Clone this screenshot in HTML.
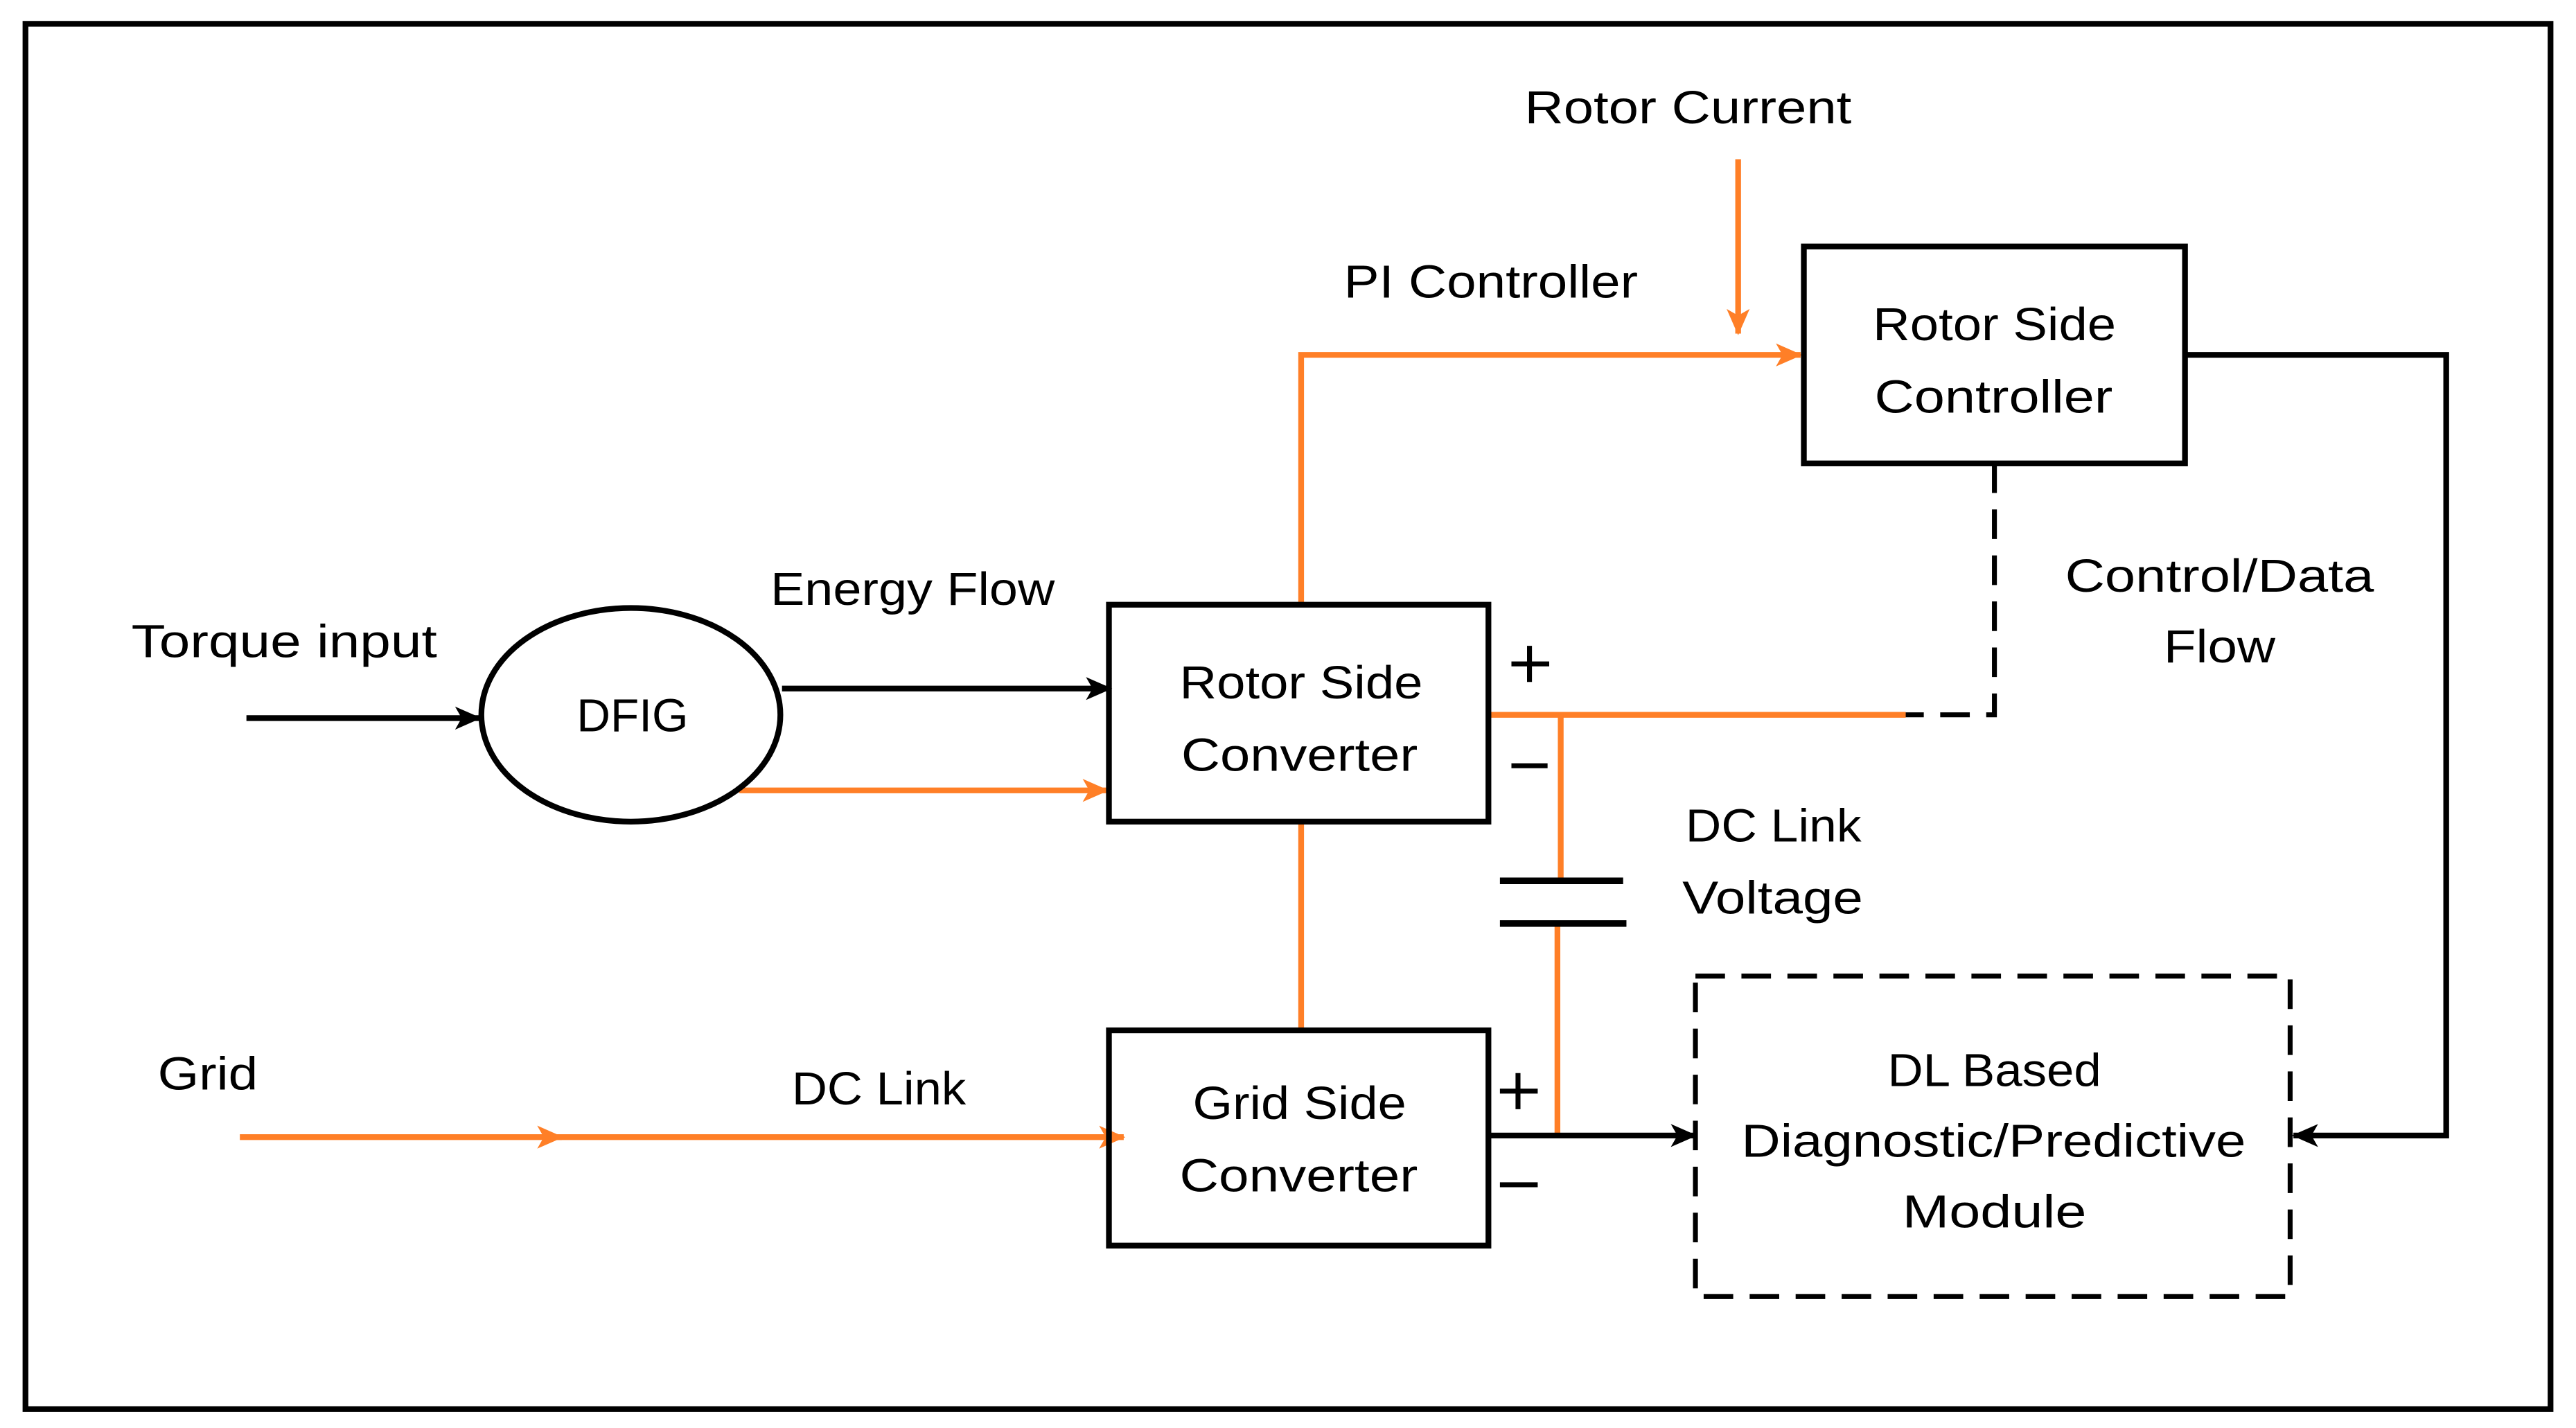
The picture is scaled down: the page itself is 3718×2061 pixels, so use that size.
<!DOCTYPE html>
<html><head><meta charset="utf-8"><style>html,body{margin:0;padding:0;background:#fff}svg{display:block}</style></head>
<body>
<svg width="3718" height="2061" viewBox="0 0 1568 869" preserveAspectRatio="none" xmlns="http://www.w3.org/2000/svg">
<defs>
<marker id="ab" markerWidth="16" markerHeight="16" refX="15" refY="8" orient="auto" markerUnits="userSpaceOnUse"><path d="M0,1 L16,8 L0,15 L4,8 Z" fill="#000"/></marker>
<marker id="ao" markerWidth="16" markerHeight="16" refX="15" refY="8" orient="auto" markerUnits="userSpaceOnUse"><path d="M0,1 L16,8 L0,15 L4,8 Z" fill="#ff7f27"/></marker>
</defs>
<rect width="1568" height="869" fill="#fff"/>
<rect x="15.5" y="14.5" width="1537" height="843" fill="none" stroke="#000" stroke-width="3.5"/>
<g font-family="Liberation Sans, sans-serif" font-size="28" fill="#000">
<text x="928" y="75" textLength="199" lengthAdjust="spacingAndGlyphs">Rotor Current</text>
<text x="818" y="181" textLength="179" lengthAdjust="spacingAndGlyphs">PI Controller</text>
<text x="1140" y="207" textLength="148" lengthAdjust="spacingAndGlyphs">Rotor Side</text>
<text x="1141" y="251" textLength="145" lengthAdjust="spacingAndGlyphs">Controller</text>
<text x="1257" y="360" textLength="188" lengthAdjust="spacingAndGlyphs">Control/Data</text>
<text x="1317" y="403" textLength="68" lengthAdjust="spacingAndGlyphs">Flow</text>
<text x="469" y="368" textLength="173" lengthAdjust="spacingAndGlyphs">Energy Flow</text>
<text x="80" y="400" textLength="186" lengthAdjust="spacingAndGlyphs">Torque input</text>
<text x="351" y="445" textLength="68" lengthAdjust="spacingAndGlyphs">DFIG</text>
<text x="718" y="425" textLength="148" lengthAdjust="spacingAndGlyphs">Rotor Side</text>
<text x="719" y="469" textLength="144" lengthAdjust="spacingAndGlyphs">Converter</text>
<text x="1026" y="512" textLength="107" lengthAdjust="spacingAndGlyphs">DC Link</text>
<text x="1024" y="556" textLength="110" lengthAdjust="spacingAndGlyphs">Voltage</text>
<text x="96" y="663" textLength="61" lengthAdjust="spacingAndGlyphs">Grid</text>
<text x="482" y="672" textLength="106" lengthAdjust="spacingAndGlyphs">DC Link</text>
<text x="726" y="681" textLength="130" lengthAdjust="spacingAndGlyphs">Grid Side</text>
<text x="718" y="725" textLength="145" lengthAdjust="spacingAndGlyphs">Converter</text>
<text x="1149" y="661" textLength="130" lengthAdjust="spacingAndGlyphs">DL Based</text>
<text x="1060" y="704" textLength="307" lengthAdjust="spacingAndGlyphs">Diagnostic/Predictive</text>
<text x="1158" y="747" textLength="112" lengthAdjust="spacingAndGlyphs">Module</text>
</g>
<g stroke="#000" stroke-width="3">
<line x1="920" y1="404" x2="943" y2="404"/><line x1="931" y1="393" x2="931" y2="415"/>
<line x1="920" y1="466" x2="942" y2="466"/>
<line x1="913" y1="664" x2="936" y2="664"/><line x1="924" y1="653" x2="924" y2="675"/>
<line x1="913" y1="721" x2="936" y2="721"/>
</g>
<g stroke="#ff7f27" stroke-width="3.5" fill="none">
<line x1="1058" y1="97" x2="1058" y2="203" marker-end="url(#ao)"/>
<polyline points="792,368 792,216 1096,216" marker-end="url(#ao)"/>
<line x1="450" y1="481" x2="674" y2="481" marker-end="url(#ao)"/>
<line x1="906" y1="435" x2="1160" y2="435"/>
<line x1="950" y1="435" x2="950" y2="535"/>
<line x1="948" y1="562" x2="948" y2="690"/>
<line x1="792" y1="500" x2="792" y2="627"/>
<line x1="146" y1="692" x2="342" y2="692" marker-end="url(#ao)"/>
<line x1="335" y1="692" x2="684" y2="692" marker-end="url(#ao)"/>
</g>
<g stroke="#000" stroke-width="4">
<line x1="913" y1="536" x2="988" y2="536"/>
<line x1="913" y1="562" x2="990" y2="562"/>
</g>
<g stroke="#000" stroke-width="3.5" fill="none">
<line x1="150" y1="437" x2="292" y2="437" marker-end="url(#ab)"/>
<line x1="476" y1="419" x2="676" y2="419" marker-end="url(#ab)"/>
<line x1="906" y1="691" x2="1032" y2="691" marker-end="url(#ab)"/>
<polyline points="1330,216 1489,216 1489,691 1396,691" marker-end="url(#ab)"/>
<ellipse cx="384" cy="435" rx="91" ry="65"/>
<rect x="1098" y="150" width="232" height="132"/>
<rect x="675" y="368" width="231" height="132"/>
<rect x="675" y="627" width="231" height="131"/>
<polyline points="1214,282 1214,435 1160,435" stroke-width="3" stroke-dasharray="18,10"/>
<rect x="1032" y="594" width="362" height="195" stroke-width="3" stroke-dasharray="18,10"/>
</g>
</svg>
</body></html>
